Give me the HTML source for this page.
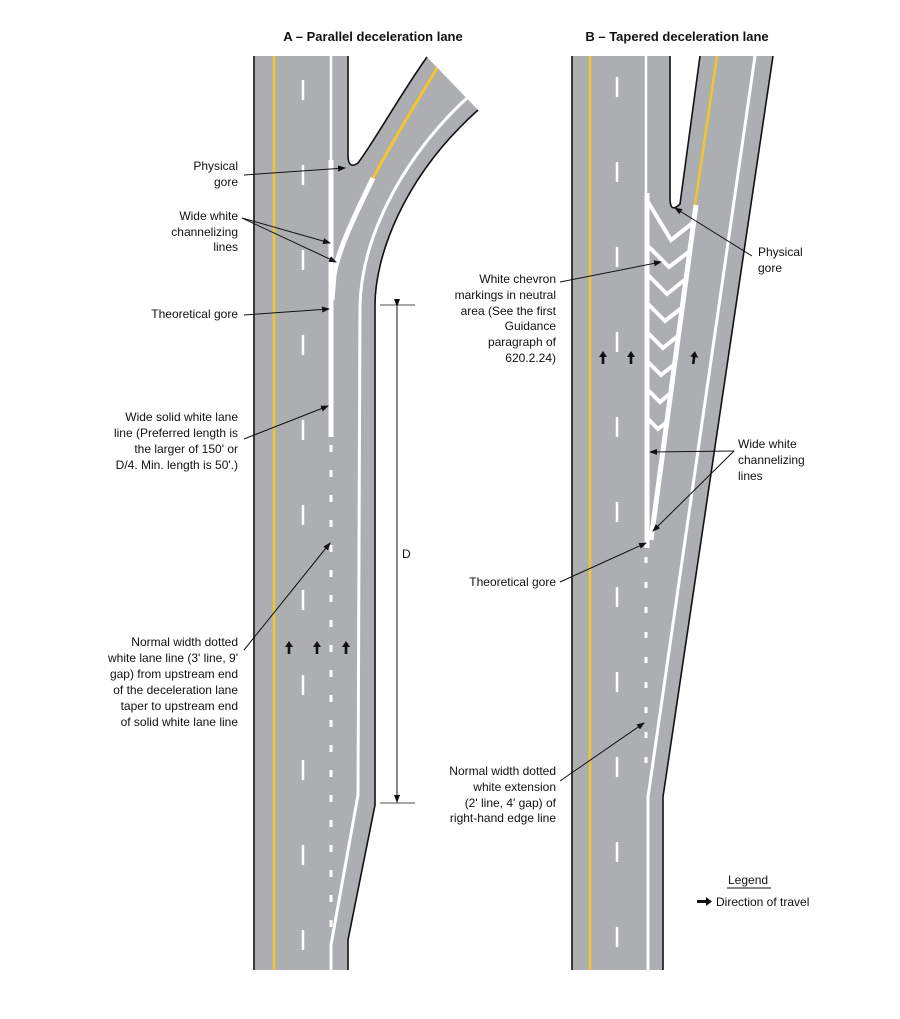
<!DOCTYPE html>
<html><head><meta charset="utf-8"><style>
html,body{margin:0;padding:0;background:#fff;}
svg{display:block;}
text{font-family:"Liberation Sans",Arial,sans-serif;font-size:12px;fill:#111;}
.t{font-weight:bold;font-size:13px;}
</style></head><body>
<svg width="900" height="1019" viewBox="0 0 900 1019" xmlns="http://www.w3.org/2000/svg">
<defs>
<marker id="ah" markerWidth="8" markerHeight="6" refX="7" refY="3" orient="auto" markerUnits="userSpaceOnUse">
<path d="M0,0 L8,3 L0,6 Z" fill="#111"/></marker>
<g id="up"><path d="M0,-7 L-4,-1 L-1.3,-1 L-1.3,6 L1.3,6 L1.3,-1 L4,-1 Z" fill="#111"/></g>
</defs>

<text class="t" x="373" y="41" text-anchor="middle">A – Parallel deceleration lane</text>
<text class="t" x="677" y="41" text-anchor="middle">B – Tapered deceleration lane</text>

<!-- ===== A ===== -->
<path d="M254,56 L348,56 L348,155 Q348,170 358,163 C372,145 400,95 427,57 L478,110 C400,180 375,260 375,305 L375,805 L348,940 L348,970 L254,970 Z" fill="#adaeb1"/>
<path d="M254,56 L254,970" stroke="#111" stroke-width="1.6" fill="none"/>
<path d="M348,56 L348,155 Q348,170 358,163 C372,145 400,95 427,57" stroke="#111" stroke-width="1.6" fill="none"/>
<path d="M478,110 C400,180 375,260 375,305 L375,805 L348,940 L348,970" stroke="#111" stroke-width="1.6" fill="none"/>
<line x1="274" y1="56" x2="274" y2="970" stroke="#f4c430" stroke-width="2.5"/>
<line x1="303" y1="80" x2="303" y2="970" stroke="#fff" stroke-width="2.5" stroke-dasharray="20 65"/>
<line x1="331" y1="56" x2="331" y2="160" stroke="#fff" stroke-width="2.5"/>
<line x1="331" y1="160" x2="331" y2="437" stroke="#fff" stroke-width="5"/>
<line x1="331" y1="445" x2="331" y2="935" stroke="#fff" stroke-width="3" stroke-dasharray="7 18"/>
<path d="M437,68 C415,105 392,142 373,178" stroke="#f4c430" stroke-width="3" fill="none"/>
<path d="M373,178 C355,215 338,250 334,275 L332,300" stroke="#fff" stroke-width="5" fill="none"/>
<path d="M467,98 C410,150 362,230 360,305 L358,795 L331,945 L331,970" stroke="#fff" stroke-width="3" fill="none"/>
<!-- D dimension -->
<line x1="380" y1="305" x2="415" y2="305" stroke="#111" stroke-width="0.8"/>
<line x1="380" y1="803" x2="415" y2="803" stroke="#111" stroke-width="0.8"/>
<line x1="397" y1="306" x2="397" y2="802" stroke="#111" stroke-width="1" marker-start="url(#ah)" marker-end="url(#ah)"/>
<text x="402" y="558">D</text>
<use href="#up" x="289" y="648"/><use href="#up" x="317" y="648"/><use href="#up" x="346" y="648"/>

<!-- A labels -->
<g text-anchor="end">
<text x="238" y="170">Physical</text><text x="238" y="186">gore</text>
<text x="238" y="220">Wide white</text><text x="238" y="236">channelizing</text><text x="238" y="251">lines</text>
<text x="238" y="318">Theoretical gore</text>
<text x="238" y="421">Wide solid white lane</text><text x="238" y="437">line (Preferred length is</text><text x="238" y="453">the larger of 150' or</text><text x="238" y="469">D/4.  Min. length is 50'.)</text>
<text x="238" y="646">Normal width dotted</text><text x="238" y="662">white lane line (3' line, 9'</text><text x="238" y="678">gap) from upstream end</text><text x="238" y="694">of the deceleration lane</text><text x="238" y="710">taper to upstream end</text><text x="238" y="726">of solid white lane line</text>
</g>
<g stroke="#111" stroke-width="1" fill="none">
<line x1="244" y1="175" x2="345" y2="168" marker-end="url(#ah)"/>
<line x1="242" y1="218" x2="330" y2="243" marker-end="url(#ah)"/>
<line x1="242" y1="218" x2="336" y2="262" marker-end="url(#ah)"/>
<line x1="244" y1="315" x2="329" y2="309" marker-end="url(#ah)"/>
<line x1="244" y1="439" x2="328" y2="406" marker-end="url(#ah)"/>
<line x1="244" y1="650" x2="330" y2="543" marker-end="url(#ah)"/>
</g>

<!-- ===== B ===== -->
<path d="M572,56 L670,56 L670,198 Q670,214 680,204 L700,56 L773,56 L663,797 L663,970 L572,970 Z" fill="#adaeb1"/>
<path d="M572,56 L572,970" stroke="#111" stroke-width="1.6" fill="none"/>
<path d="M670,56 L670,198 Q670,214 680,204 L700,56" stroke="#111" stroke-width="1.6" fill="none"/>
<path d="M773,56 L663,797 L663,970" stroke="#111" stroke-width="1.6" fill="none"/>
<line x1="590" y1="56" x2="590" y2="970" stroke="#f4c430" stroke-width="2.5"/>
<line x1="617" y1="77" x2="617" y2="970" stroke="#fff" stroke-width="2.5" stroke-dasharray="20 65"/>
<line x1="646" y1="56" x2="646" y2="193" stroke="#fff" stroke-width="2.5"/>
<line x1="647" y1="193" x2="647" y2="548" stroke="#fff" stroke-width="5"/>
<line x1="646" y1="557" x2="646" y2="780" stroke="#fff" stroke-width="3" stroke-dasharray="6 19"/>
<line x1="717" y1="56" x2="695" y2="205" stroke="#f4c430" stroke-width="2.5"/>
<path d="M755,56 L648,797 L648,970" stroke="#fff" stroke-width="3" fill="none"/>
<line x1="696" y1="205" x2="651" y2="540" stroke="#fff" stroke-width="5"/>
<g stroke="#fff" stroke-width="4" fill="none" stroke-linejoin="miter">
<path d="M648,202 L671,240 L694,222"/>
<path d="M648,246 L669,267 L690,251"/>
<path d="M648,275 L667,294 L687,278"/>
<path d="M648,304 L665,321 L683,307"/>
<path d="M648,333 L663,348 L679,335"/>
<path d="M648,362 L661,375 L675,364"/>
<path d="M648,390 L660,402 L672,392"/>
<path d="M648,419 L658,429 L668,421"/>
</g>
<use href="#up" x="603" y="358"/><use href="#up" x="631" y="358"/>
<use href="#up" x="0" y="0" transform="translate(694,358) rotate(8)"/>

<!-- B labels -->
<g text-anchor="end">
<text x="556" y="283">White chevron</text><text x="556" y="299">markings in neutral</text><text x="556" y="315">area (See the first</text><text x="556" y="330">Guidance</text><text x="556" y="346">paragraph of</text><text x="556" y="362">620.2.24)</text>
<text x="556" y="586">Theoretical gore</text>
<text x="556" y="775">Normal width dotted</text><text x="556" y="791">white extension</text><text x="556" y="807">(2' line, 4' gap) of</text><text x="556" y="822">right-hand edge line</text>
</g>
<text x="758" y="256">Physical</text><text x="758" y="272">gore</text>
<text x="738" y="448">Wide white</text><text x="738" y="464">channelizing</text><text x="738" y="480">lines</text>
<g stroke="#111" stroke-width="1" fill="none">
<line x1="560" y1="282" x2="661" y2="262" marker-end="url(#ah)"/>
<line x1="752" y1="256" x2="675" y2="208" marker-end="url(#ah)"/>
<line x1="734" y1="451" x2="650" y2="452" marker-end="url(#ah)"/>
<line x1="734" y1="451" x2="653" y2="531" marker-end="url(#ah)"/>
<line x1="560" y1="582" x2="646" y2="543" marker-end="url(#ah)"/>
<line x1="560" y1="781" x2="644" y2="723" marker-end="url(#ah)"/>
</g>

<!-- Legend -->
<text x="728" y="884">Legend</text>
<line x1="727" y1="888" x2="771" y2="888" stroke="#111" stroke-width="1"/>
<path d="M697,900 L706,900 L706,897 L712,901.5 L706,906 L706,903 L697,903 Z" fill="#111"/>
<text x="716" y="906">Direction of travel</text>
</svg>
</body></html>
